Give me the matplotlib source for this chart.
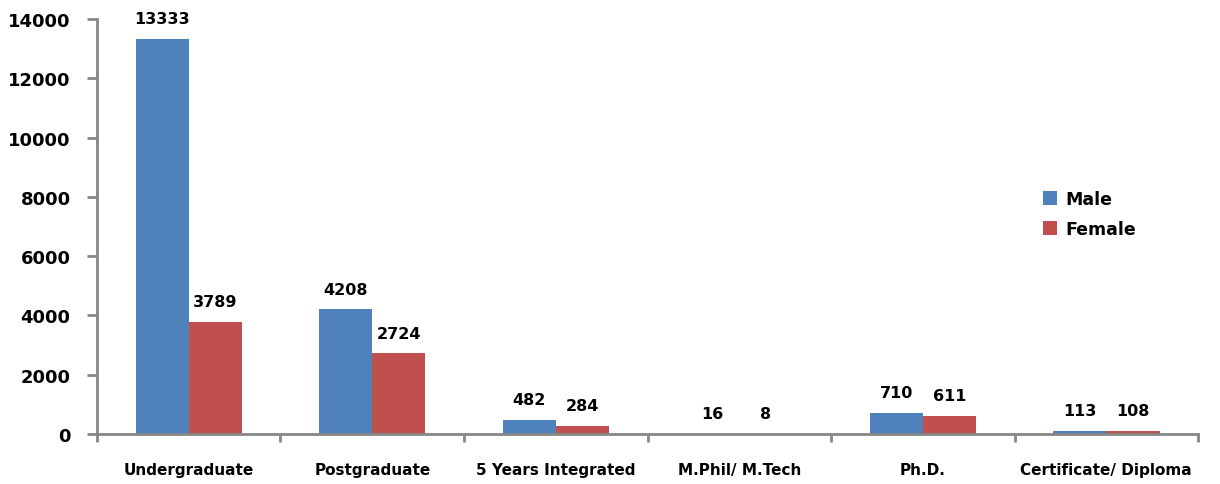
import numpy as np
import matplotlib.pyplot as plt

# 과정별 남녀 인원
categories = ["Undergraduate", "Postgraduate", "5 Years Integrated",
              "M.Phil/ M.Tech", "Ph.D.", "Certificate/ Diploma"]
male = [13333, 4208, 482, 16, 710, 113]
female = [3789, 2724, 284, 8, 611, 108]
yticks = [0, 2000, 4000, 6000, 8000, 10000, 12000, 14000]

blue = "#4F81BD"
red = "#C0504D"
axis_gray = "#868686"

fig = plt.figure(figsize=(12.2, 4.85), dpi=100)
ax = fig.add_axes([0.0795, 0.103, 0.9025, 0.856])

x = np.arange(len(categories))
w = 0.29
b1 = ax.bar(x - w / 2, male, w, color=blue, label="Male")
b2 = ax.bar(x + w / 2, female, w, color=red, label="Female")

for bars in (b1, b2):
    for rect in bars:
        h = rect.get_height()
        ax.annotate(f"{int(h)}", (rect.get_x() + rect.get_width() / 2, h),
                    xytext=(0, 9), textcoords="offset points",
                    ha="center", va="bottom", fontsize=11.5, fontweight="bold")

ax.set_xlim(-0.5, len(categories) - 0.5)
ax.set_ylim(0, 14000)
ax.set_yticks(yticks)
ax.set_yticklabels([str(v) for v in yticks], fontsize=13, fontweight="bold")
ax.tick_params(axis="y", length=7, width=2, color=axis_gray, pad=12)

ax.set_xticks(x)
ax.set_xticklabels(categories, fontsize=11, fontweight="bold")
ax.tick_params(axis="x", which="major", length=0, pad=20)
ax.set_xticks(np.arange(-0.5, len(categories) + 0.5, 1), minor=True)
ax.tick_params(axis="x", which="minor", length=6, width=2, color=axis_gray)

for s in ("top", "right"):
    ax.spines[s].set_visible(False)
for s in ("left", "bottom"):
    ax.spines[s].set_color(axis_gray)
    ax.spines[s].set_linewidth(2)

leg = ax.legend(loc="center left", bbox_to_anchor=(0.845, 0.53), frameon=False,
                prop={"weight": "bold", "size": 12.5}, handlelength=0.8,
                handleheight=0.8, handletextpad=0.5, labelspacing=0.7)

fig.savefig("out.png", dpi=100)
